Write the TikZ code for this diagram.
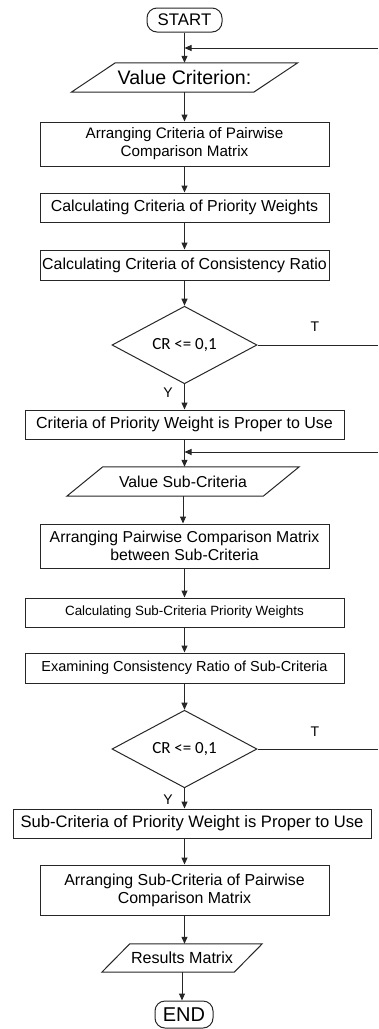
\documentclass[tikz,border=0pt]{standalone}
\usepackage{fontspec}
\setmainfont{Liberation Sans}
\newfontfamily\crfont{Carlito}
\usetikzlibrary{shapes.geometric,arrows.meta}

\tikzset{
  line/.style={draw=black!85, line width=1pt},
  arrow/.style={line, -{Triangle[length=7pt,width=6pt]}},
  process/.style={line, rectangle, inner sep=0pt, align=center},
  io/.style={inner sep=0pt, align=center},
  terminal/.style={line, rectangle, rounded corners=10pt, inner sep=0pt},
  decision/.style={line, diamond, inner sep=0pt},
}
\newcommand{\fsz}[1]{\fontsize{#1}{18}\selectfont}

\begin{document}
\begin{tikzpicture}[x=1pt, y=-1pt]
	\useasboundingbox (0,0) rectangle (378,1029);
	
	% Criteria part
	\node[terminal, minimum width=75pt, minimum height=24pt, font=\fsz{16.8}] (start) at (184.5,20) {START};
	\node[io, minimum width=182pt, minimum height=29pt, font=\fsz{19.6}] (val1) at (184.5,77.5) {Value Criterion:};
	\node[process, minimum width=289pt, minimum height=44pt, font=\fsz{15.2}] (arr1) at (184.5,144) {Arranging Criteria of Pairwise\\Comparison Matrix};
	\node[process, minimum width=289pt, minimum height=29pt, font=\fsz{15.9}] (calc1) at (184.5,207.5) {Calculating Criteria of Priority Weights};
	\node[process, minimum width=289pt, minimum height=30pt, font=\fsz{15.9}] (cons1) at (184.5,265) {Calculating Criteria of Consistency Ratio};
	\node[decision, minimum width=145pt, minimum height=72pt, font=\crfont\fsz{17}] (cr1) at (184.5,345) {CR <= 0,1};
	\node[process, minimum width=319pt, minimum height=29pt, font=\fsz{16}] (use1) at (184.5,424.5) {Criteria of Priority Weight is Proper to Use};
	
	% Sub-criteria part
	\node[io, minimum width=196pt, minimum height=29pt, font=\fsz{15.8}] (val2) at (183,481.5) {Value Sub-Criteria};
	\node[process, minimum width=289pt, minimum height=44pt, font=\fsz{15.8}] (arr2) at (184.5,546) {Arranging Pairwise Comparison Matrix\\between Sub-Criteria};
	\node[process, minimum width=319pt, minimum height=29pt, font=\fsz{13.4}] (calc2) at (184.5,612.5) {Calculating Sub-Criteria Priority Weights};
	\node[process, minimum width=319pt, minimum height=30pt, font=\fsz{14.5}] (cons2) at (184.5,668) {Examining Consistency Ratio of Sub-Criteria};
	\node[decision, minimum width=145pt, minimum height=71pt, font=\crfont\fsz{17}] (cr2) at (184.5,749) {CR <= 0,1};
	\node[process, minimum width=358pt, minimum height=29pt, font=\fsz{16.6}] (use2) at (192,823.5) {Sub-Criteria of Priority Weight is Proper to Use};
	\node[process, minimum width=289pt, minimum height=50pt, font=\fsz{15.9}] (arr3) at (184.5,890) {Arranging Sub-Criteria of Pairwise\\Comparison Matrix};
	\node[io, minimum width=132pt, minimum height=28pt, font=\fsz{16.1}] (res) at (182,958) {Results Matrix};
	\node[terminal, minimum width=58pt, minimum height=27pt, font=\fsz{20}] (end) at (184,1014.5) {END};
	
	% Parallelogram outlines
	\foreach \n/\s in {val1/22, val2/18, res/14}
		\draw[line] ([xshift=\s pt]\n.north west) -- ([xshift=\s pt]\n.north east) -- ([xshift=-\s pt]\n.south east) -- ([xshift=-\s pt]\n.south west) -- cycle;
	
	% Main flow
	\foreach \a/\b in {start/val1, val1/arr1, arr1/calc1, calc1/cons1, cons1/cr1, cr1/use1, use1/val2, val2/arr2, arr2/calc2, calc2/cons2, cons2/cr2, cr2/use2, res/end}
		\draw[arrow] (\a.south) -- (\a.south |- \b.north);
	\draw[arrow] (arr3.north |- use2.south) -- (arr3.north);
	\draw[arrow] (arr3.south) -- (arr3.south |- res.north);
	
	% Loops back
	\coordinate (back1) at (378,48);
	\coordinate (back2) at (378,452);
	\draw[arrow] (back1) -- (back1 -| start.south);
	\draw[arrow] (back2) -- (back2 -| use1.south);
	\draw[line] (cr1.east) -- (cr1.east -| back1);
	\draw[line] (cr2.east) -- (cr2.east -| back2);
	
	% Labels
	\node[font=\fsz{14}] (t1) at (315,327) {T};
	\node[font=\fsz{14}] (y1) at (168,393) {Y};
	\node[font=\fsz{14}] (t2) at (315,732) {T};
	\node[font=\fsz{14}] (y2) at (168,800) {Y};
\end{tikzpicture}
\end{document}
